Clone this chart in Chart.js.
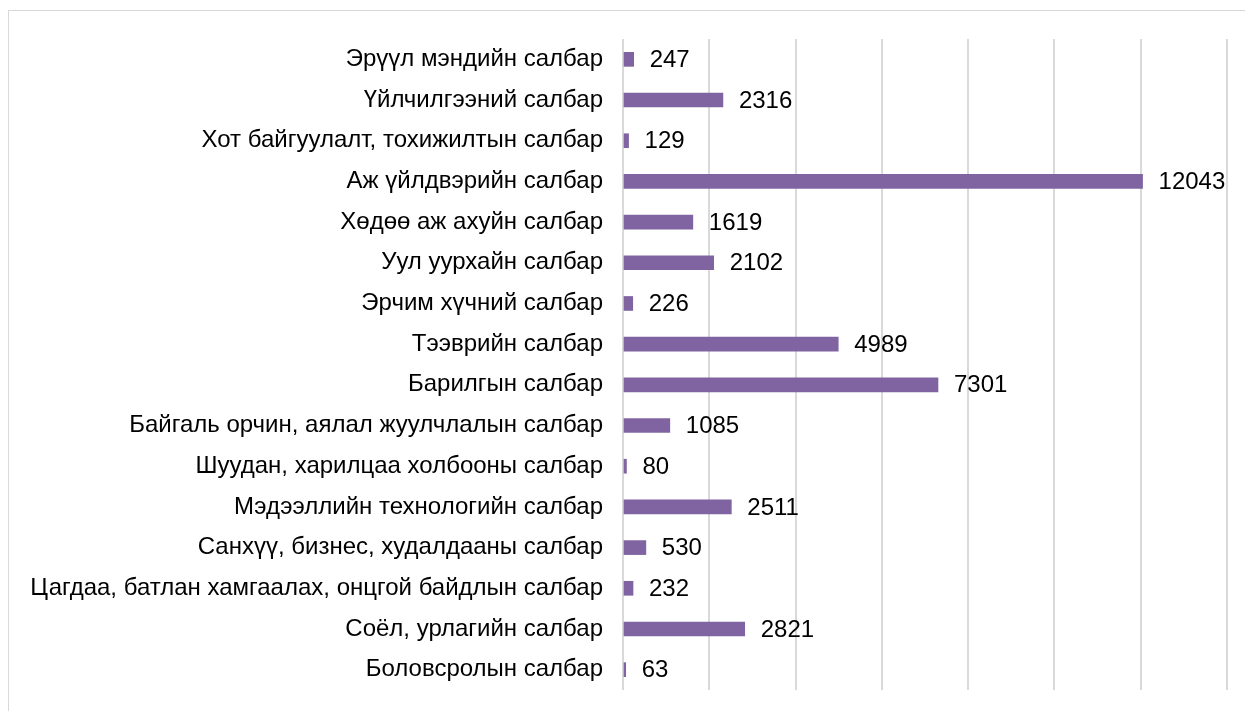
<!DOCTYPE html>
<html lang="mn">

<head>
  <meta charset="UTF-8">
  <title>Chart</title>
  <script src="https://cdn.jsdelivr.net/npm/chart.js@4.4.1/dist/chart.umd.min.js"></script>
  <style>
    body { margin: 0; background: #fff; }
    #box { position: absolute; left: 8px; top: 10px; width: 1236px; height: 700px; border: 1px solid #d9d9d9; }
  </style>
</head>

<body>
  <div id="box">
    <canvas id="chart" width="1236" height="700"></canvas>
  </div>

  <script>
    const sectors = [
      'Эрүүл мэндийн салбар',
      'Үйлчилгээний салбар',
      'Хот байгуулалт, тохижилтын салбар',
      'Аж үйлдвэрийн салбар',
      'Хөдөө аж ахуйн салбар',
      'Уул уурхайн салбар',
      'Эрчим хүчний салбар',
      'Тээврийн салбар',
      'Барилгын салбар',
      'Байгаль орчин, аялал жуулчлалын салбар',
      'Шуудан, харилцаа холбооны салбар',
      'Мэдээллийн технологийн салбар',
      'Санхүү, бизнес, худалдааны салбар',
      'Цагдаа, батлан хамгаалах, онцгой байдлын салбар',
      'Соёл, урлагийн салбар',
      'Боловсролын салбар'
    ];
    const counts = [247, 2316, 129, 12043, 1619, 2102, 226, 4989, 7301, 1085, 80, 2511, 530, 232, 2821, 63];

    const fontFamily = "Arial, 'Liberation Sans', sans-serif";
    const fontSize = 24;

    // draws the number to the right of each bar
    const valueLabels = {
      id: 'valueLabels',
      afterDatasetsDraw(chart) {
        const ctx = chart.ctx;
        const meta = chart.getDatasetMeta(0);
        ctx.save();
        ctx.font = fontSize + 'px ' + fontFamily;
        ctx.fillStyle = '#000';
        ctx.textAlign = 'left';
        ctx.textBaseline = 'middle';
        meta.data.forEach((bar, i) => {
          ctx.fillText(counts[i], bar.x + 16, bar.y + 1);
        });
        ctx.restore();
      }
    };

    const context = document.getElementById('chart').getContext('2d');
    const chart = new Chart(context, {
      type: 'bar',
      data: {
        labels: sectors,
        datasets: [
          {
            data: counts,
            backgroundColor: '#8064a2',
            barThickness: 14
          }
        ]
      },
      options: {
        indexAxis: 'y',
        responsive: false,
        animation: false,
        layout: {
          padding: { top: 28, right: 18, bottom: 21, left: 0 }
        },
        plugins: {
          legend: { display: false },
          tooltip: { enabled: false }
        },
        scales: {
          x: {
            min: 0,
            max: 14000,
            ticks: { display: false, stepSize: 2000 },
            grid: { color: '#d9d9d9', lineWidth: 2, drawTicks: false },
            border: { display: false },
            afterFit: scale => { scale.height = 0; }
          },
          y: {
            grid: { display: false, drawTicks: false },
            border: { display: false },
            ticks: {
              padding: 20,
              color: '#000',
              font: { family: fontFamily, size: fontSize }
            },
            afterFit: scale => {
              scale.width = 614;
              scale.paddingTop = 0;
              scale.paddingBottom = 0;
            }
          }
        }
      },
      plugins: [valueLabels]
    });
  </script>
</body>

</html>
